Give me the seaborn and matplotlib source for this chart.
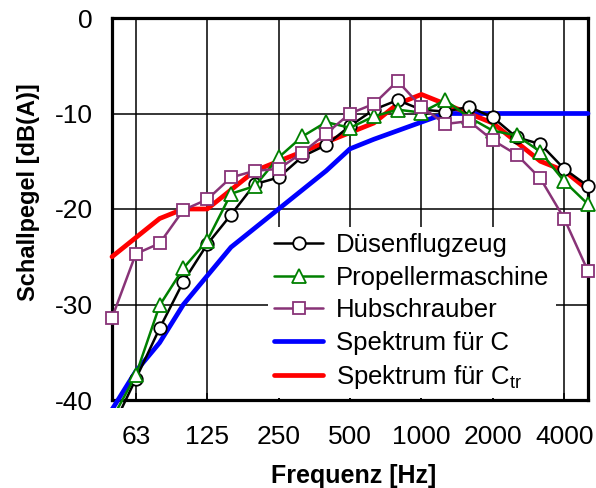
import matplotlib
matplotlib.use("Agg")
import matplotlib.pyplot as plt
import seaborn as sns
import numpy as np
import pandas as pd
from matplotlib.transforms import Bbox, TransformedBbox

bands = ["50", "63", "80", "100", "125", "160", "200", "250", "315", "400", "500",
         "630", "800", "1000", "1250", "1600", "2000", "2500", "3150", "4000", "5000"]
tick_labels = ["63", "125", "250", "500", "1000", "2000", "4000"]

duesen = [-43.0, -37.8, -32.5, -27.6, -23.7, -20.6, -17.4, -16.7, -14.5, -13.3, -11.3,
          -9.6, -8.6, -9.6, -9.8, -9.3, -10.4, -12.5, -13.2, -15.8, -17.6]
propeller = [-42.0, -37.4, -30.1, -26.2, -23.3, -18.4, -17.6, -14.6, -12.4, -10.9, -11.5,
             -10.3, -9.6, -9.9, -8.6, -10.4, -11.8, -12.3, -14.0, -17.1, -19.5]
hubschrauber = [-31.4, -24.7, -23.6, -20.1, -19.0, -16.7, -16.0, -15.8, -14.1, -12.1, -10.0,
                -9.0, -6.6, -9.3, -11.1, -10.8, -12.8, -14.3, -16.8, -21.0, -26.5]
spektrum_c = [-41, -37, -34, -30, -27, -24, -22, -20, -18, -16, -13.7,
              -12.7, -11.8, -10.9, -10, -10, -10, -10, -10, -10, -10]
spektrum_ctr = [-25, -23, -21, -20, -20, -18, -16, -15, -14, -13, -12,
                -11, -9, -8, -9, -10, -11, -13, -15, -16, -18]

sns.set_theme(style="white")
plt.rcParams['font.family'] = ['Liberation Sans', 'DejaVu Sans']
plt.rcParams['mathtext.fontset'] = 'custom'
plt.rcParams['mathtext.rm'] = 'Liberation Sans'
plt.rcParams['text.color'] = 'black'
plt.rcParams['axes.labelcolor'] = 'black'
plt.rcParams['xtick.color'] = 'black'
plt.rcParams['ytick.color'] = 'black'

W, H = 596, 488
fig = plt.figure(figsize=(W / 100, H / 100), dpi=100)
L, R, T, B = 112, 588, 18, 400
ax = fig.add_axes([L / W, 1 - B / H, (R - L) / W, (B - T) / H])

x = np.arange(len(bands))
df = pd.DataFrame({"x": x, "duesen": duesen, "propeller": propeller,
                   "hubschrauber": hubschrauber, "c": spektrum_c, "ctr": spektrum_ctr})

sns.lineplot(data=df, x="x", y="c", color="#0000ff", lw=3.4, ax=ax,
             label="Spektrum für C", zorder=3)
sns.lineplot(data=df, x="x", y="ctr", color="#ff0000", lw=3.4, ax=ax,
             label="Spektrum für C$_\\mathregular{tr}$", zorder=3.1)
sns.lineplot(data=df, x="x", y="duesen", color="black", lw=1.8, marker="o", ms=9,
             markerfacecolor="white", markeredgecolor="black", markeredgewidth=1.3,
             ax=ax, label="Düsenflugzeug", zorder=4)
sns.lineplot(data=df, x="x", y="propeller", color="#008000", lw=1.8, marker="^", ms=10,
             markerfacecolor="white", markeredgecolor="#008000", markeredgewidth=1.3,
             ax=ax, label="Propellermaschine", zorder=4.1)
sns.lineplot(data=df, x="x", y="hubschrauber", color="#883377", lw=1.8, marker="s", ms=8.5,
             markerfacecolor="white", markeredgecolor="#883377", markeredgewidth=1.3,
             ax=ax, label="Hubschrauber", zorder=4.2)

clip = TransformedBbox(Bbox([[-0.05, -0.022], [1.05, 1.0]]), ax.transAxes)
for ln in ax.lines:
    ln.set_clip_path(None)
    ln.set_clip_box(clip)

ax.set_xlim(0, 20)
ax.set_ylim(-40, 0)
ax.set_xticks([1, 4, 7, 10, 13, 16, 19])
ax.set_xticklabels(tick_labels)
ax.set_yticks([-40, -30, -20, -10, 0])
ax.set_yticklabels(["-40", "-30", "-20", "-10", "0"])
ax.grid(True, color="black", lw=1.1)
ax.set_axisbelow(True)
ax.tick_params(axis="x", direction="in", length=5, width=1.1, color="black",
               labelsize=19, pad=18, bottom=True, labelcolor="black")
ax.tick_params(axis="y", direction="in", length=0, labelsize=19, pad=14, labelcolor="black")
for s in ax.spines.values():
    s.set_visible(True)
    s.set_color("black")
    s.set_linewidth(2.3)
ax.set_xlabel("")
ax.set_ylabel("")

fig.text(354 / W, 1 - 476 / H, "Frequenz [Hz]", ha="center", va="center",
         fontsize=18, fontweight="bold", color="black")
fig.text(29 / W, 1 - 192 / H, "Schallpegel [dB(A)]", ha="center", va="center",
         rotation=90, fontsize=17, fontweight="bold", color="black")

handles, labels = ax.get_legend_handles_labels()
order = [2, 3, 4, 0, 1]
leg = ax.legend([handles[i] for i in order], [labels[i] for i in order],
                loc="upper left", bbox_to_anchor=(268 / W, 1 - 227 / H),
                bbox_transform=fig.transFigure, fontsize=18.5, frameon=True,
                fancybox=False, framealpha=1, facecolor="white", edgecolor="none",
                borderpad=0.25, borderaxespad=0, handlelength=1.9, handletextpad=0.5,
                labelspacing=0.33)
for t in leg.get_texts():
    t.set_color("black")
leg.set_zorder(10)

fig.savefig("out.png", dpi=100)
